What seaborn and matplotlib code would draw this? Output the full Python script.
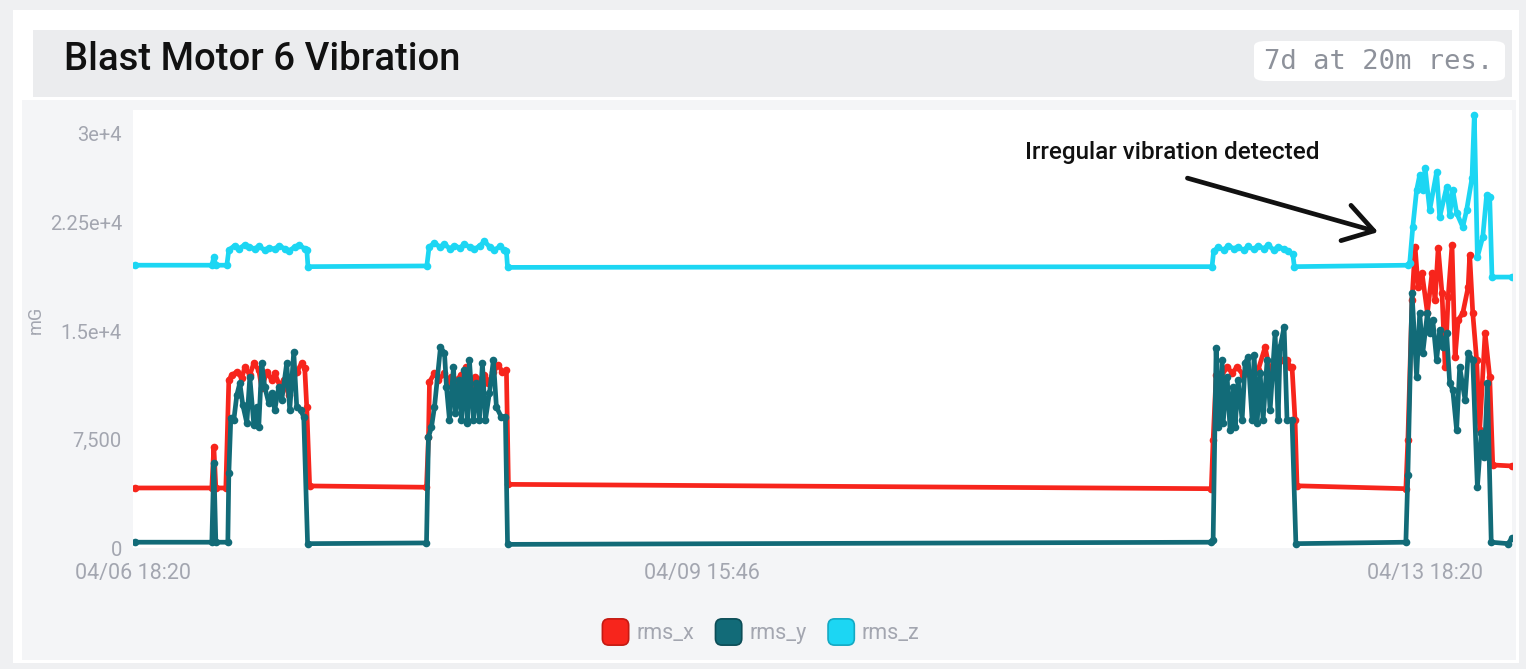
import numpy as np
import pandas as pd
import matplotlib
matplotlib.use("Agg")
import matplotlib.pyplot as plt
import seaborn as sns
from matplotlib.patches import Rectangle, FancyBboxPatch, Patch
from matplotlib.legend_handler import HandlerPatch
import matplotlib.transforms as mtransforms

# ---------------- data (hours since 04/06 18:20, values in mG) ----------------
x_hours = [0.26, 10.25, 10.51, 10.77, 12.07, 12.46, 12.85, 13.50, 14.15, 14.54, 15.19, 15.71,
           16.35, 16.74, 17.39, 18.04, 18.43, 19.08, 19.60, 20.25, 20.64, 21.29, 21.94, 22.33,
           22.59, 22.97, 38.16, 38.42, 38.55, 39.20, 39.72, 40.50, 41.02, 41.41, 42.06, 42.70,
           43.35, 44.00, 44.52, 45.04, 45.69, 46.21, 46.86, 47.51, 48.03, 48.55, 48.81,
           140.20, 140.44, 140.83, 141.35, 142.26, 142.91, 143.56, 144.34, 144.99, 145.64, 146.29,
           147.20, 147.85, 148.63, 149.41, 150.05, 150.44, 150.70, 151.09, 151.35,
           165.50, 165.76, 166.30, 166.70, 167.10, 167.60, 168.30, 168.90, 169.30, 169.70, 170.20,
           170.60, 171.00, 171.50, 171.90, 172.30, 172.90, 173.60, 173.80, 174.20, 174.70, 175.10,
           175.80, 176.40, 176.80, 179.30]
rms_x = [4150, 4150, 6980, 4150, 4150, 11610, 11960, 12170, 11750, 12510, 11960, 12790,
         12300, 11060, 12170, 11610, 12100, 11200, 11610, 10580, 11400, 12170, 12790, 12440,
         9750, 4290, 4200, 7670, 11470, 12100, 11610, 12100, 11270, 11820, 11610, 11960,
         12510, 11270, 11820, 11610, 11960, 11400, 12170, 12650, 12170, 12300, 4400,
         4100, 7470, 11960, 11750, 12510, 12100, 12510, 11960, 12170, 11750, 12300,
         13890, 12170, 12650, 13000, 13000, 12510, 12510, 8850, 4300,
         4100, 7470, 17140, 20800, 18040, 19010, 16240, 19010, 17140, 20740, 17630,
         12510, 17350, 20940, 13200, 15760, 16240, 18040, 20250, 16240, 13000, 8160,
         14860, 11820, 5740, 5670]

y_hours = [0.26, 10.25, 10.51, 10.77, 12.33, 12.46, 12.72, 13.11, 13.50, 13.89, 14.28, 14.80,
           15.19, 15.71, 16.10, 16.35, 16.74, 17.13, 17.65, 18.04, 18.43, 18.95, 19.34, 19.99,
           20.38, 20.90, 21.29, 21.81, 22.20, 22.70, 38.16, 38.42, 38.81, 39.20, 39.98, 40.50,
           40.76, 41.15, 41.67, 41.93, 42.44, 42.70, 43.09, 43.48, 43.74, 44.26, 44.65, 45.04,
           45.43, 45.82, 46.34, 46.86, 47.25, 47.90, 48.42, 48.70,
           140.20, 140.44, 140.83, 141.09, 141.61, 141.74, 142.26, 142.65, 143.04, 143.30, 143.69,
           144.21, 144.60, 144.99, 145.51, 145.77, 146.16, 146.55, 146.94, 147.46, 147.85, 148.50,
           148.89, 149.15, 149.67, 150.05, 150.70, 151.20,
           165.50, 165.76, 166.30, 166.90, 167.30, 167.70, 168.30, 168.60, 169.00, 169.50, 169.90,
           170.30, 170.80, 171.20, 171.60, 172.10, 172.50, 173.20, 173.60, 174.20, 174.80, 175.30,
           175.70, 176.10, 176.60, 178.80, 179.30]
rms_y = [400, 400, 5880, 400, 400, 5180, 8990, 8850, 10580, 11400, 9880, 8640,
         11820, 8500, 9750, 8360, 12790, 11130, 10020, 10710, 9540, 11130, 10230, 12790,
         9540, 13550, 9750, 9540, 9050, 300, 350, 7670, 8360, 9750, 13890, 13480,
         11130, 8850, 12510, 9330, 11610, 8850, 12300, 8640, 13000, 8850, 11400, 8850,
         12790, 8850, 10710, 13000, 9750, 9050, 9050, 250,
         400, 550, 13820, 8360, 13000, 8640, 11820, 8160, 11130, 8360, 11610,
         8850, 12790, 13200, 8850, 13340, 8640, 12100, 8850, 13000, 9540, 14860,
         8850, 13890, 15280, 8850, 8850, 300,
         400, 5050, 17630, 11820, 16240, 13480, 16240, 14860, 15760, 13000, 15070,
         13890, 14860, 11400, 10920, 8160, 12510, 10230, 13480, 13000, 4220, 7950,
         6290, 11400, 400, 300, 700]

z_hours = [0.26, 10.25, 10.51, 10.77, 12.20, 12.46, 13.20, 13.80, 14.50, 15.10, 15.80, 16.40,
           17.10, 17.70, 18.40, 19.00, 19.70, 20.30, 21.00, 21.60, 22.30, 22.60, 22.75,
           38.20, 38.50, 39.20, 39.90, 40.50, 41.20, 41.80, 42.50, 43.10, 43.80, 44.40, 45.10,
           45.70, 46.40, 47.00, 47.70, 48.30, 48.55, 48.70,
           140.30, 140.50, 141.10, 141.80, 142.40, 143.10, 143.70, 144.40, 145.00, 145.70, 146.30,
           147.00, 147.60, 148.30, 148.90, 149.60, 150.20, 150.80, 151.00,
           165.76, 166.00, 166.40, 166.90, 167.30, 167.70, 168.00, 168.60, 169.50, 169.90, 170.80,
           171.20, 171.60, 172.10, 172.90, 173.40, 174.10, 174.40, 174.80, 175.50, 176.00, 176.40,
           176.70, 179.30]
rms_z = [19550, 19550, 20100, 19550, 19550, 20600, 20900, 20700, 20950, 20800, 20700, 20850,
         20600, 20750, 20650, 20900, 20700, 20550, 20800, 20950, 20700, 20600, 19450,
         19500, 20800, 21100, 20800, 21000, 20700, 20900, 20750, 21000, 20800, 20650, 20900,
         21200, 20800, 20600, 20850, 20600, 20500, 19400,
         19450, 20500, 20800, 20600, 20900, 20700, 20800, 20600, 20850, 20650, 20900,
         20700, 20950, 20600, 20800, 20700, 20500, 20300, 19450,
         19550, 19700, 22190, 24750, 25780, 24750, 26270, 23360, 25990, 22880, 24950,
         23020, 24750, 23160, 22190, 23360, 25570, 29930, 20110, 21500, 24400, 24260,
         18730, 18730]

series_names = ["rms_x", "rms_y", "rms_z"]
series_colors = ["#f7251c", "#126b78", "#1cd6f3"]
series_edges = ["#c41a12", "#0c4d57", "#14a9c3"]
y_ticks = [0, 7500, 15000, 22500, 30000]
y_tick_labels = ["0", "7,500", "1.5e+4", "2.25e+4", "3e+4"]
x_ticks = [0.0, 74.0, 168.0]
x_tick_labels = ["04/06 18:20", "04/09 15:46", "04/13 18:20"]
title = "Blast Motor 6 Vibration"
badge = "7d at 20m res."
annotation = "Irregular vibration detected"

df = pd.concat([
    pd.DataFrame({"hours": x_hours, "mG": rms_x, "series": "rms_x"}),
    pd.DataFrame({"hours": y_hours, "mG": rms_y, "series": "rms_y"}),
    pd.DataFrame({"hours": z_hours, "mG": rms_z, "series": "rms_z"}),
], ignore_index=True)

# ---------------- figure ----------------
sns.set_theme(style="white")
plt.rcParams["font.family"] = ["Roboto", "DejaVu Sans"]

W, H = 1526, 669
fig = plt.figure(figsize=(W / 100, H / 100), dpi=100, facecolor="#eff0f2")


def px_rect(x0, y0, x1, y1):
    return (x0 / W, 1 - y1 / H, (x1 - x0) / W, (y1 - y0) / H)


def add_rect(x0, y0, x1, y1, color, z=-10):
    l, b, w, h = px_rect(x0, y0, x1, y1)
    fig.patches.append(Rectangle((l, b), w, h, transform=fig.transFigure,
                                 facecolor=color, edgecolor="none", zorder=z))


add_rect(13, 10, 1519, 663, "#ffffff", -12)     # card
add_rect(33, 30, 1512, 97, "#ebecee", -11)      # header bar
add_rect(22, 100, 1516, 660, "#f4f5f7", -11)    # chart panel

l, b, w, h = px_rect(1254, 41, 1505, 81)
fig.patches.append(FancyBboxPatch((l, b), w, h, transform=fig.transFigure,
                                  boxstyle="round,pad=0,rounding_size=0.008",
                                  facecolor="#ffffff", edgecolor="none", zorder=-9))

fig.text(64 / W, 1 - 60 / H, title, fontsize=27.5, fontweight="medium",
         color="#111111", va="center", ha="left")
fig.text(1379 / W, 1 - 62 / H, badge, fontsize=19.5, family="DejaVu Sans Mono",
         color="#8e929b", va="center", ha="center")

ax = fig.add_axes(px_rect(133, 110, 1512, 548))
ax.set_zorder(5)
ax.set_facecolor("#ffffff")
for s in ax.spines.values():
    s.set_visible(False)

sns.lineplot(data=df, x="hours", y="mG", hue="series", hue_order=series_names,
             palette=dict(zip(series_names, series_colors)), estimator=None, sort=False,
             marker="o", markersize=5.5, markeredgewidth=0, linewidth=3.4,
             legend=False, ax=ax)

ax.set_xlim(0.26, 179.3)
ax.set_ylim(0, 30280)
ax.set_yticks(y_ticks)
ax.set_yticklabels(y_tick_labels)
ax.set_xticks(x_ticks)
ax.set_xticklabels(x_tick_labels)
ax.tick_params(axis="both", length=0, labelcolor="#a3a6b0")
ax.tick_params(axis="y", pad=8, labelsize=14.5)
ax.tick_params(axis="x", pad=11, labelsize=15.5)
ax.set_xlabel("")
ax.set_ylabel("mG", fontsize=13, color="#a3a6b0")
ax.yaxis.set_label_coords(-0.064, 0.52)
ax.grid(False)

# top tick label sits a bit lower in the reference
top_lbl = ax.get_yticklabels()[-1]
top_lbl.set_transform(top_lbl.get_transform() +
                      mtransforms.ScaledTranslation(0, -0.19, fig.dpi_scale_trans))

# annotation
ax.text(135.1, 27370, annotation, fontsize=17.5, fontweight="medium", color="#111111",
        ha="center", va="center")
ax.annotate("", xy=(161.9, 21840), xytext=(137.1, 25570),
            arrowprops=dict(arrowstyle="->,head_length=0.95,head_width=0.6",
                            mutation_scale=22, lw=3.4, color="#111111",
                            shrinkA=0, shrinkB=0))


def rounded_patch(legend, orig_handle, xdescent, ydescent, width, height, fontsize):
    side = min(width, height)
    return FancyBboxPatch((-xdescent + (width - side) / 2, -ydescent + (height - side) / 2),
                          side, side, boxstyle="round,pad=0,rounding_size=%f" % (side * 0.25))


handles = [Patch(facecolor=c, edgecolor=e, linewidth=1.2, label=n)
           for n, c, e in zip(series_names, series_colors, series_edges)]
leg = fig.legend(handles=handles, loc="center", bbox_to_anchor=(761 / W, 1 - 632 / H),
                 ncol=3, frameon=False, fontsize=15.5, handlelength=1.22, handleheight=1.5,
                 handletextpad=0.35, columnspacing=1.0,
                 handler_map={Patch: HandlerPatch(patch_func=rounded_patch)})
for t in leg.get_texts():
    t.set_color("#a3a6b0")

fig.savefig("out.png", dpi=100, facecolor=fig.get_facecolor())
